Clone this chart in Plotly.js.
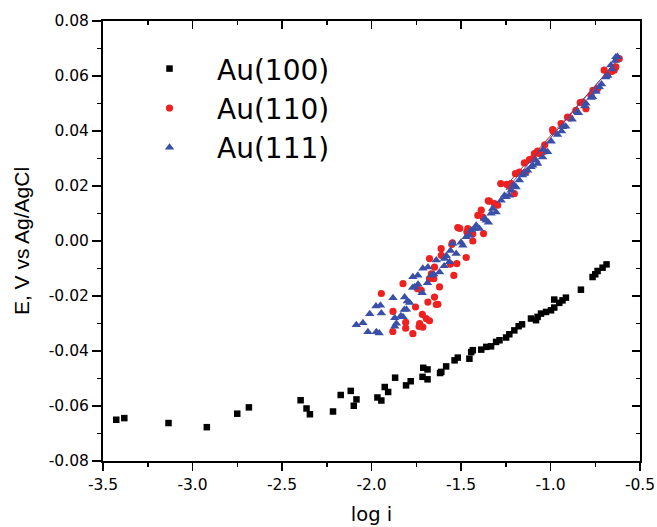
<!DOCTYPE html>
<html>
<head>
<meta charset="utf-8">
<script src="https://cdn.plot.ly/plotly-3.0.1.min.js"></script>
<style>html,body{margin:0;padding:0;background:#fff;}#chart{width:657px;height:527px;}</style>
</head>
<body>
<div id="chart"></div>
<script>
// Au(100) - black squares
const au100X = [-3.426,-3.381,-3.134,-2.920,-2.750,-2.685,-2.396,-2.363,-2.344,-2.215,-2.172,-2.116,-2.084,-2.099,-1.967,-1.945,-1.926,-1.907,-1.868,-1.807,-1.781,-1.711,-1.687,-1.715,-1.687,-1.617,-1.610,-1.583,-1.536,-1.518,-1.453,-1.443,-1.434,-1.387,-1.359,-1.332,-1.304,-1.285,-1.248,-1.230,-1.202,-1.178,-1.159,-1.109,-1.081,-1.072,-1.053,-1.025,-0.997,-0.979,-0.979,-0.951,-0.933,-0.914,-0.830,-0.765,-0.750,-0.737,-0.709,-0.687];
const au100Y = [-0.0650,-0.0644,-0.0662,-0.0677,-0.0628,-0.0605,-0.0579,-0.0609,-0.0630,-0.0620,-0.0560,-0.0545,-0.0576,-0.0599,-0.0569,-0.0580,-0.0531,-0.0549,-0.0497,-0.0525,-0.0510,-0.0461,-0.0467,-0.0494,-0.0503,-0.0480,-0.0476,-0.0456,-0.0434,-0.0424,-0.0428,-0.0404,-0.0397,-0.0395,-0.0385,-0.0383,-0.0367,-0.0361,-0.0351,-0.0339,-0.0325,-0.0310,-0.0303,-0.0282,-0.0288,-0.0276,-0.0264,-0.0258,-0.0252,-0.0242,-0.0213,-0.0225,-0.0216,-0.0206,-0.0177,-0.0131,-0.0121,-0.0109,-0.0097,-0.0085];

// Au(110) - red circles
const au110X = [-1.945,-1.880,-1.881,-1.824,-1.809,-1.809,-1.769,-1.734,-1.716,-1.731,-1.713,-1.694,-1.676,-1.685,-1.648,-1.629,-1.620,-1.676,-1.666,-1.648,-1.676,-1.611,-1.610,-1.559,-1.540,-1.523,-1.548,-1.551,-1.518,-1.507,-1.471,-1.467,-1.462,-1.434,-1.434,-1.406,-1.374,-1.387,-1.378,-1.348,-1.341,-1.313,-1.295,-1.278,-1.245,-1.230,-1.220,-1.202,-1.196,-1.174,-1.146,-1.137,-1.118,-1.100,-1.090,-1.072,-1.062,-1.035,-1.032,-0.988,-0.985,-0.941,-0.905,-0.891,-0.858,-0.834,-0.821,-0.802,-0.774,-0.763,-0.737,-0.700,-0.683,-0.657,-0.644,-0.635,-0.629,-0.616,-1.744,-1.722,-1.652,-1.754,-1.638];
const au110Y = [-0.0191,-0.0256,-0.0329,-0.0155,-0.0296,-0.0317,-0.0337,-0.0311,-0.0267,-0.0300,-0.0313,-0.0282,-0.0290,-0.0222,-0.0204,-0.0230,-0.0167,-0.0137,-0.0119,-0.0095,-0.0064,-0.0028,-0.0052,-0.0084,-0.0125,-0.0082,-0.0007,-0.0012,0.0049,0.0046,-0.0060,0.0033,0.0045,0.0000,0.0026,0.0093,0.0027,0.0112,0.0087,0.0146,0.0145,0.0136,0.0130,0.0209,0.0206,0.0199,0.0209,0.0172,0.0245,0.0251,0.0284,0.0251,0.0296,0.0300,0.0318,0.0327,0.0318,0.0326,0.0350,0.0405,0.0399,0.0427,0.0451,0.0448,0.0475,0.0503,0.0505,0.0481,0.0530,0.0548,0.0554,0.0621,0.0603,0.0617,0.0621,0.0633,0.0662,0.0663,-0.0173,-0.0179,-0.0137,-0.0240,-0.0231];

// Au(111) - blue triangles
const au111X = [-2.085,-2.048,-2.020,-2.010,-1.975,-1.973,-1.957,-1.950,-1.945,-1.880,-1.870,-1.870,-1.861,-1.836,-1.824,-1.815,-1.817,-1.805,-1.800,-1.787,-1.769,-1.759,-1.770,-1.741,-1.740,-1.717,-1.713,-1.685,-1.687,-1.666,-1.652,-1.638,-1.620,-1.592,-1.594,-1.564,-1.582,-1.559,-1.546,-1.527,-1.500,-1.490,-1.471,-1.453,-1.443,-1.425,-1.415,-1.397,-1.369,-1.359,-1.347,-1.332,-1.323,-1.304,-1.276,-1.257,-1.248,-1.231,-1.220,-1.202,-1.192,-1.174,-1.156,-1.146,-1.128,-1.109,-1.100,-1.081,-1.072,-1.043,-1.044,-1.016,-0.996,-0.961,-0.938,-0.932,-0.915,-0.879,-0.849,-0.844,-0.809,-0.802,-0.774,-0.765,-0.746,-0.728,-0.715,-0.691,-0.680,-0.663,-0.657,-0.638,-0.635,-0.626];
const au111Y = [-0.0305,-0.0298,-0.0331,-0.0265,-0.0237,-0.0331,-0.0335,-0.0234,-0.0262,-0.0207,-0.0280,-0.0311,-0.0300,-0.0272,-0.0276,-0.0204,-0.0250,-0.0249,-0.0219,-0.0224,-0.0131,-0.0167,-0.0170,-0.0125,-0.0158,-0.0189,-0.0100,-0.0095,-0.0152,-0.0125,-0.0121,-0.0070,-0.0113,-0.0064,-0.0091,-0.0076,-0.0054,-0.0035,-0.0009,-0.0046,-0.0005,-0.0016,0.0015,0.0020,0.0039,0.0045,0.0057,0.0045,0.0081,0.0075,0.0068,0.0100,0.0118,0.0105,0.0148,0.0166,0.0160,0.0166,0.0184,0.0202,0.0196,0.0221,0.0239,0.0245,0.0257,0.0269,0.0275,0.0293,0.0281,0.0332,0.0305,0.0324,0.0362,0.0387,0.0399,0.0415,0.0417,0.0442,0.0469,0.0466,0.0490,0.0500,0.0521,0.0524,0.0543,0.0560,0.0570,0.0596,0.0601,0.0639,0.0625,0.0656,0.0669,0.0670];

// linear fit lines (upper region)
const fitX = [-1.25, -0.62];
const fit110Y = [0.0200, 0.0660];
const fit111Y = [0.0185, 0.0664];

// ticks
const xTickVals = [-3.5,-3.0,-2.5,-2.0,-1.5,-1.0,-0.5];
const xTickText = ['-3.5','-3.0','-2.5','-2.0','-1.5','-1.0','-0.5'];
const yTickVals = [-0.08,-0.06,-0.04,-0.02,0.00,0.02,0.04,0.06,0.08];
const yTickText = ['-0.08','-0.06','-0.04','-0.02','0.00','0.02','0.04','0.06','0.08'];

const names = ['Au(100)','Au(110)','Au(111)'];
const colors = ['#000000','#EE2020','#3A50A8'];

const traces = [
  {x: au100X, y: au100Y, mode:'markers', type:'scatter', name: names[0],
   marker:{symbol:'square', size:6.5, color:colors[0]}},
  {x: au110X, y: au110Y, mode:'markers', type:'scatter', name: names[1],
   marker:{symbol:'circle', size:7.2, color:colors[1]}},
  {x: au111X, y: au111Y, mode:'markers', type:'scatter', name: names[2],
   marker:{symbol:'triangle-up', size:8.3, color:colors[2]}},
  {x: fitX, y: fit110Y, mode:'lines', type:'scatter', showlegend:false,
   line:{color:colors[1], width:1}},
  {x: fitX, y: fit111Y, mode:'lines', type:'scatter', showlegend:false,
   line:{color:colors[2], width:1}},
  {x: [], y: [], xaxis:'x2', yaxis:'y2', type:'scatter', mode:'markers', showlegend:false}
];

const tickFont = {family:'DejaVu Sans, Liberation Sans, Arial', size:15.5, color:'#000'};

const layout = {
  width:657, height:527,
  margin:{l:103, r:17, t:21, b:66, pad:0},
  paper_bgcolor:'#fff', plot_bgcolor:'#fff',
  showlegend:true,
  xaxis:{
    range:[-3.5,-0.5], tickmode:'array', tickvals:xTickVals, ticktext:xTickText,
    ticks:'outside', ticklen:8, tickwidth:1.5, tickcolor:'#000',
    showline:true, linewidth:2, linecolor:'#000', showgrid:false, zeroline:false,
    minor:{ticks:'outside', ticklen:4, tickwidth:1.5, tickcolor:'#000', dtick:0.25, tick0:-3.5, showgrid:false},
    tickfont:tickFont,
    title:{text:'log i', font:{family:'DejaVu Sans, Liberation Sans, Arial', size:19.5, color:'#000'}, standoff:15},
    automargin:false
  },
  yaxis:{
    range:[-0.08,0.08], tickmode:'array', tickvals:yTickVals, ticktext:yTickText,
    ticks:'outside', ticklen:9, tickwidth:1.5, tickcolor:'#000',
    showline:true, linewidth:2, linecolor:'#000', showgrid:false, zeroline:false,
    minor:{ticks:'outside', ticklen:4, tickwidth:1.5, tickcolor:'#000', dtick:0.01, tick0:-0.08, showgrid:false},
    tickfont:tickFont,
    title:{text:'E, V vs Ag/AgCl', font:{family:'Liberation Sans, Arial', size:21, color:'#000'}, standoff:13},
    automargin:false
  },
  xaxis2:{
    overlaying:'x', side:'top', range:[-3.5,-0.5], tickmode:'array', tickvals:xTickVals,
    showticklabels:false, ticks:'inside', ticklen:8, tickwidth:1.5, tickcolor:'#000',
    showline:true, linewidth:2, linecolor:'#000', showgrid:false, zeroline:false,
    minor:{ticks:'inside', ticklen:4, tickwidth:1.5, tickcolor:'#000', dtick:0.25, tick0:-3.5, showgrid:false}
  },
  yaxis2:{
    overlaying:'y', side:'right', range:[-0.08,0.08], tickmode:'array', tickvals:yTickVals,
    showticklabels:false, ticks:'inside', ticklen:8, tickwidth:1.5, tickcolor:'#000',
    showline:true, linewidth:2, linecolor:'#000', showgrid:false, zeroline:false,
    minor:{ticks:'inside', ticklen:4, tickwidth:1.5, tickcolor:'#000', dtick:0.01, tick0:-0.08, showgrid:false}
  },
  legend:{
    x:0.0354, y:0.948, xanchor:'left', yanchor:'top',
    bgcolor:'rgba(0,0,0,0)', borderwidth:0,
    font:{family:'DejaVu Sans, Liberation Sans, Arial', size:28, color:'#000'},
    itemwidth:85, tracegroupgap:0
  }
};

Plotly.newPlot('chart', traces, layout, {staticPlot:true, displayModeBar:false});
</script>
</body>
</html>
